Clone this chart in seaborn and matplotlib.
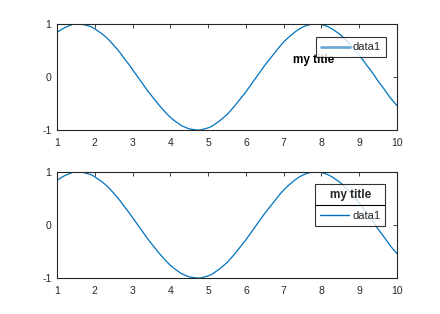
import matplotlib
matplotlib.use("Agg")
import matplotlib.pyplot as plt
import seaborn as sns
import pandas as pd
from matplotlib.lines import Line2D

x_vals = [round(1.0 + 0.1 * i, 1) for i in range(91)]
y_vals = [0.84, 0.89, 0.93, 0.96, 0.99, 1.00, 1.00, 0.99, 0.97, 0.95,
          0.91, 0.86, 0.81, 0.75, 0.68, 0.60, 0.52, 0.43, 0.33, 0.24,
          0.14, 0.04, -0.06, -0.16, -0.26, -0.35, -0.44, -0.53, -0.61, -0.69,
          -0.76, -0.82, -0.87, -0.92, -0.95, -0.98, -0.99, -1.00, -1.00, -0.98,
          -0.96, -0.93, -0.88, -0.83, -0.77, -0.71, -0.63, -0.55, -0.46, -0.37,
          -0.28, -0.18, -0.08, 0.02, 0.12, 0.22, 0.31, 0.40, 0.49, 0.58,
          0.66, 0.73, 0.79, 0.85, 0.90, 0.94, 0.97, 0.99, 1.00, 1.00,
          0.99, 0.97, 0.94, 0.90, 0.85, 0.80, 0.73, 0.66, 0.58, 0.50,
          0.41, 0.32, 0.22, 0.13, 0.03, -0.08, -0.17, -0.27, -0.37, -0.46, -0.54]
x_ticks = [1, 2, 3, 4, 5, 6, 7, 8, 9, 10]
y_ticks = [-1, 0, 1]
series_name = "data1"
legend_title = "my title"

df = pd.DataFrame({"x": x_vals, "y": y_vals})

sns.set_theme(style="white")
plt.rcParams["font.family"] = ["Liberation Sans", "DejaVu Sans"]

COLOR = "#0072BD"
fig = plt.figure(figsize=(4.4, 3.14), dpi=100)
W, H = 440, 314
ax1 = fig.add_axes([57 / W, 1 - 130 / H, 340 / W, 106 / H])
ax2 = fig.add_axes([57 / W, 1 - 278 / H, 340 / W, 106 / H])

for ax in (ax1, ax2):
    sns.lineplot(data=df, x="x", y="y", ax=ax, color=COLOR, linewidth=0.9, legend=False)
    ax.set_xlim(1, 10)
    ax.set_ylim(-1, 1)
    ax.set_xticks(x_ticks)
    ax.set_yticks(y_ticks)
    ax.set_xticklabels([str(t) for t in x_ticks])
    ax.set_yticklabels([str(t) for t in y_ticks])
    ax.set_xlabel("")
    ax.set_ylabel("")
    ax.tick_params(direction="in", length=3, width=0.6, top=True, right=True,
                   labelsize=7.5, colors="#262626", pad=4)
    ax.tick_params(axis="x", pad=6)
    for s in ax.spines.values():
        s.set_visible(True)
        s.set_color("#262626")
        s.set_linewidth(0.8)

# top: legend without integrated title, title text drawn separately
h1 = [Line2D([], [], color="#6FAAD4", linewidth=2.0)]
leg1 = ax1.legend(h1, [series_name], loc="upper left",
                  bbox_to_anchor=(0.761, 0.873), fontsize=8,
                  frameon=True, fancybox=False, edgecolor="black",
                  handlelength=2.6, handletextpad=0.3, borderpad=0.45,
                  borderaxespad=0)
leg1.get_frame().set_linewidth(0.8)
ax1.text(0.756, 0.66, legend_title, transform=ax1.transAxes, ha="center",
         va="center", fontsize=8.5, fontweight="bold", color="black")

# bottom: legend with title
h2 = [Line2D([], [], color=COLOR, linewidth=1.0)]
leg2 = ax2.legend(h2, [series_name], loc="upper left",
                  bbox_to_anchor=(0.759, 0.887), fontsize=8,
                  title=legend_title,
                  title_fontproperties={"weight": "bold", "size": 8.5},
                  frameon=True, fancybox=False, edgecolor="black",
                  handlelength=2.6, handletextpad=0.3, borderpad=0.45,
                  labelspacing=0.9, borderaxespad=0)
leg2.get_frame().set_linewidth(0.8)
ax2.add_line(Line2D([0.759, 0.965], [0.689, 0.689], transform=ax2.transAxes,
                    color="black", linewidth=0.8, zorder=10))

fig.savefig("out.png", dpi=100, facecolor="white")
